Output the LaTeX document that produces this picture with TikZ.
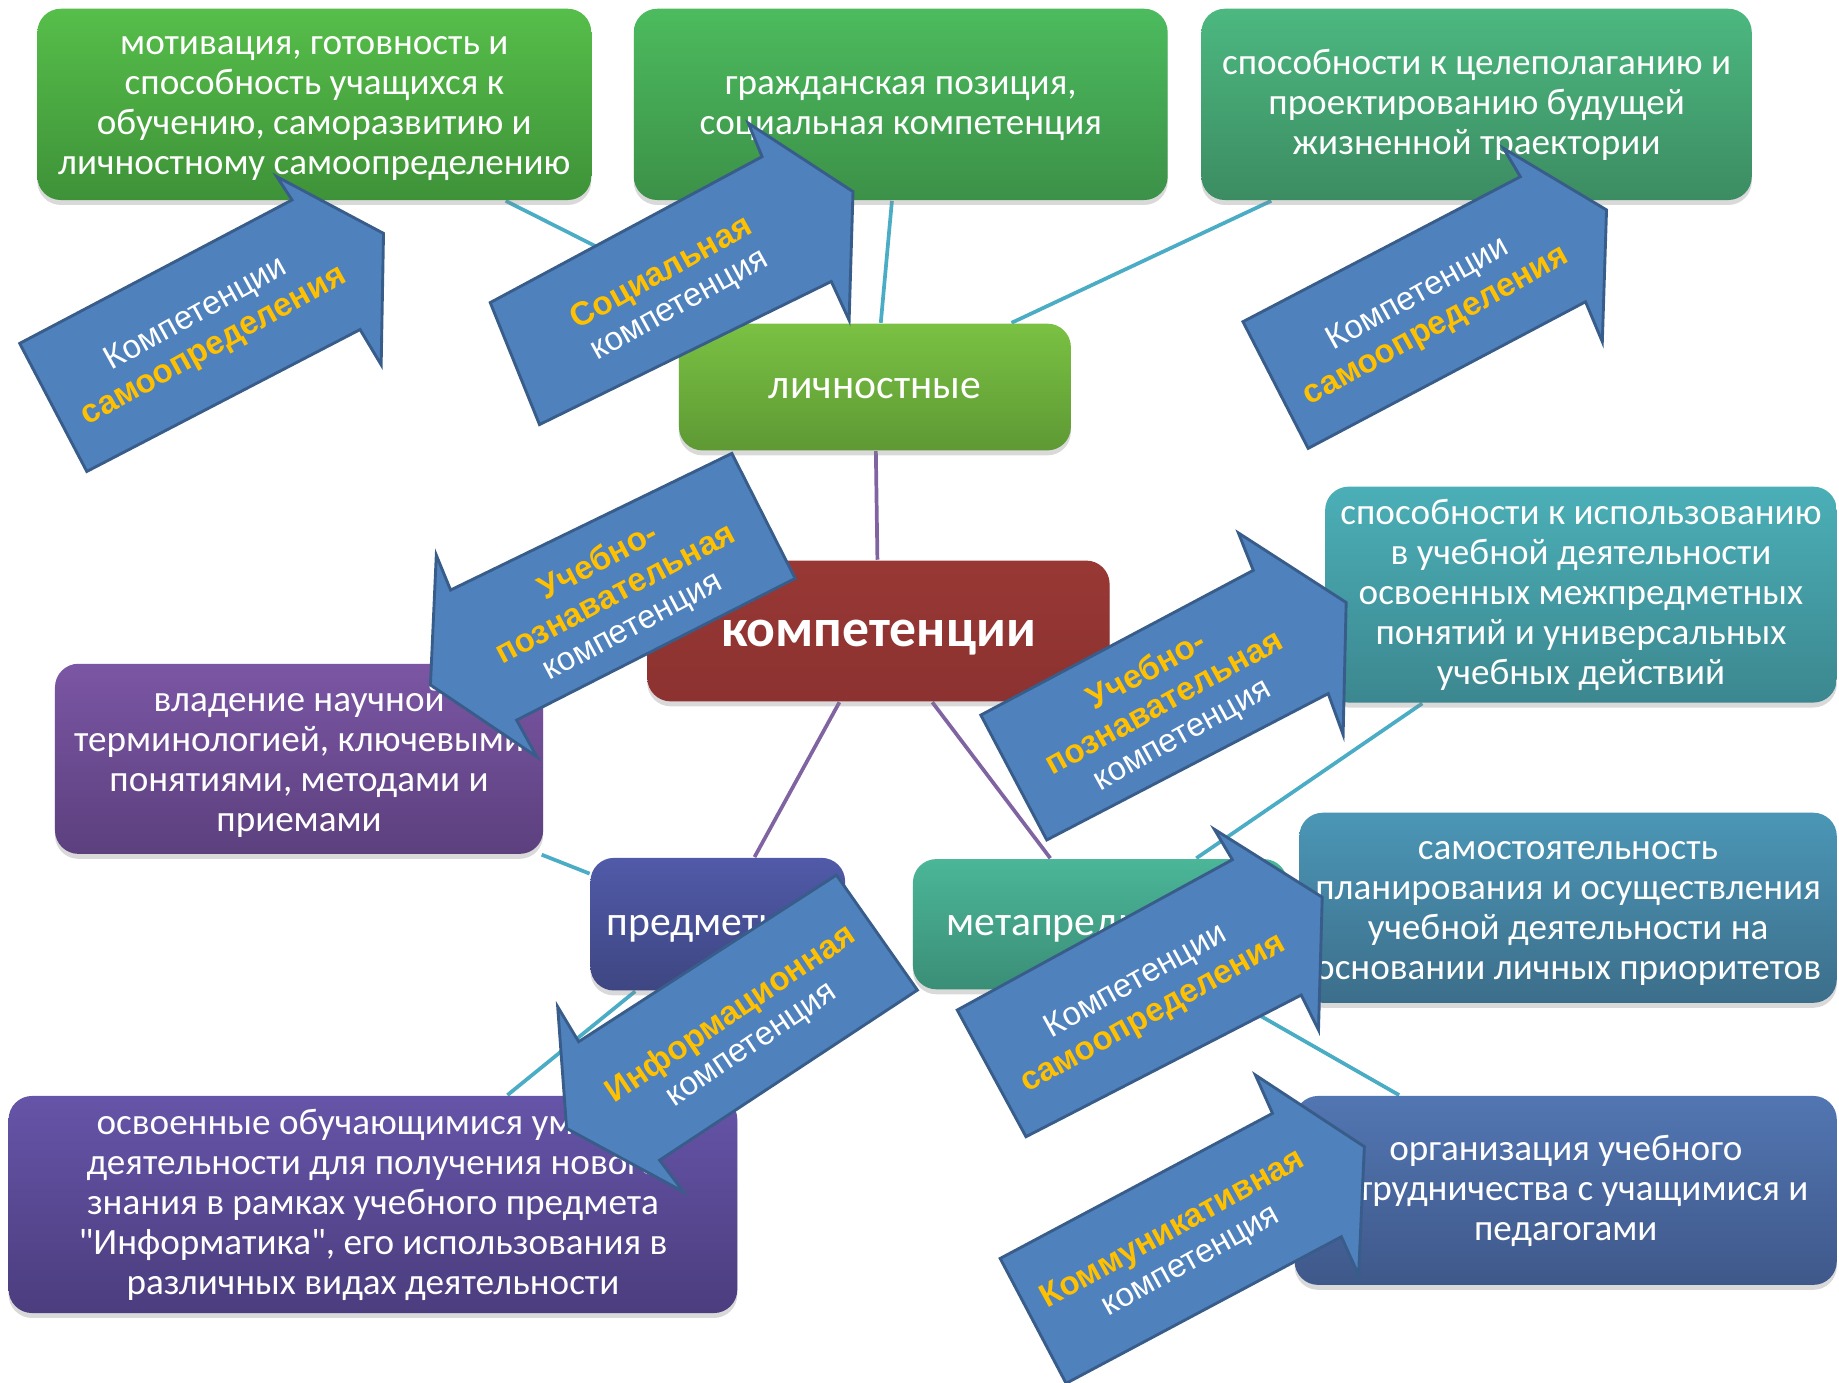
\documentclass[tikz,border=0pt]{standalone}
\usepackage{fontspec}
\setmainfont{Carlito}[Ligatures=TeXOff]
\newfontfamily\arrowfont{Liberation Sans}
\usetikzlibrary{shadows, backgrounds}

% Box colours (top / bottom of the gradient)
\definecolor{motivT}{RGB}{86,190,74}    \definecolor{motivB}{RGB}{62,146,56}
\definecolor{civicT}{RGB}{76,187,94}    \definecolor{civicB}{RGB}{60,145,72}
\definecolor{goalT}{RGB}{76,184,128}    \definecolor{goalB}{RGB}{60,140,98}
\definecolor{persT}{RGB}{122,193,67}    \definecolor{persB}{RGB}{94,153,52}
\definecolor{coreT}{RGB}{152,56,53}     \definecolor{coreB}{RGB}{140,50,48}
\definecolor{termT}{RGB}{123,86,164}    \definecolor{termB}{RGB}{92,64,126}
\definecolor{subjT}{RGB}{80,90,168}     \definecolor{subjB}{RGB}{62,70,130}
\definecolor{metaT}{RGB}{75,182,152}    \definecolor{metaB}{RGB}{58,142,118}
\definecolor{usageT}{RGB}{75,175,183}   \definecolor{usageB}{RGB}{60,135,143}
\definecolor{planT}{RGB}{75,150,182}    \definecolor{planB}{RGB}{60,110,138}
\definecolor{skillT}{RGB}{102,84,168}   \definecolor{skillB}{RGB}{75,61,126}
\definecolor{coopT}{RGB}{82,118,178}    \definecolor{coopB}{RGB}{63,88,138}
% Arrows and links
\definecolor{arrowblue}{RGB}{79,129,189}
\definecolor{arrowedge}{RGB}{56,93,138}
\definecolor{goldtext}{RGB}{255,192,0}
\definecolor{linkteal}{RGB}{75,172,198}
\definecolor{linkpurple}{RGB}{128,100,162}

\tikzset{
  compbox/.style={rectangle, rounded corners=0.2cm, text=white, align=center,
    inner sep=0pt, font=\fontsize{9}{9.7}\selectfont,
    drop shadow={opacity=0.3, shadow xshift=0pt, shadow yshift=-1.2pt}},
  bigbox/.style={compbox, font=\fontsize{10.1}{11}\selectfont},
  blockarrow/.style={fill=arrowblue, draw=arrowedge, line width=0.7pt, line join=miter},
  arrowtext/.style={align=center, text=white, inner sep=0pt,
    font=\arrowfont\fontsize{8}{8.8}\selectfont},
  tealline/.style={draw=linkteal, line width=0.9pt},
  purpleline/.style={draw=linkpurple, line width=0.9pt}
}
\newcommand{\gold}[1]{{\bfseries\color{goldtext}#1}}
% lower the text of a box a little without moving the box
\newcommand{\low}[2][1pt]{\raisebox{-#1}[\height][\depth]{\begin{tabular}{@{}c@{}}#2\end{tabular}}}

\begin{document}
\begin{tikzpicture}[x=0.01cm, y=-0.01cm]

    \useasboundingbox (0,0) rectangle (1568,1179);

    % Top row
    \node[compbox, top color=motivT, bottom color=motivB, minimum width=4.72cm, minimum height=1.63cm]
        (motiv) at (268,89) {\low[0.6pt]{мотивация, готовность и\\способность учащихся к\\обучению, саморазвитию и\\личностному самоопределению}};
    \node[compbox, top color=civicT, bottom color=civicB, minimum width=4.55cm, minimum height=1.63cm]
        (civic) at (768,89) {\low[0.6pt]{гражданская позиция,\\социальная компетенция}};
    \node[compbox, top color=goalT, bottom color=goalB, minimum width=4.69cm, minimum height=1.63cm]
        (goal) at (1259,89) {способности к целеполаганию и\\проектированию будущей\\жизненной траектории};

    % Personal group and centre
    \node[bigbox, top color=persT, bottom color=persB, minimum width=3.34cm, minimum height=1.08cm]
        (pers) at (746,330) {\low[0.5pt]{личностные}};
    \node[compbox, top color=coreT, bottom color=coreB, minimum width=3.94cm, minimum height=1.2cm,
        font=\fontsize{13}{14}\bfseries]
        (core) at (749,538) {\raisebox{-1.7pt}[\height][\depth]{компетенции}};

    % Left side
    \node[compbox, top color=termT, bottom color=termB, minimum width=4.16cm, minimum height=1.62cm]
        (term) at (255,647) {\low[1.1pt]{владение научной\\терминологией, ключевыми\\понятиями, методами и\\приемами}};
    \node[bigbox, top color=subjT, bottom color=subjB, minimum width=2.17cm, minimum height=1.13cm]
        (subj) at (612,788) {\low[0.5pt]{предметные}};
    \node[compbox, top color=skillT, bottom color=skillB, minimum width=6.21cm, minimum height=1.85cm]
        (skill) at (318,1027) {освоенные обучающимися умения\\деятельности для получения нового\\знания в рамках учебного предмета\\"Информатика", его использования в\\различных видах деятельности};

    % Right side
    \node[bigbox, top color=metaT, bottom color=metaB, minimum width=3.19cm, minimum height=1.11cm]
        (meta) at (938,788) {\low[0.5pt]{метапредметные}};
    \node[compbox, top color=usageT, bottom color=usageB, minimum width=4.36cm, minimum height=1.84cm]
        (usage) at (1348,507) {способности к использованию\\в учебной деятельности\\освоенных межпредметных\\понятий и универсальных\\учебных действий};
    \node[compbox, top color=planT, bottom color=planB, minimum width=4.58cm, minimum height=1.62cm]
        (plan) at (1337,774) {\low[0.9pt]{самостоятельность\\планирования и осуществления\\учебной деятельности на\\основании личных приоритетов}};
    \node[compbox, top color=coopT, bottom color=coopB, minimum width=4.62cm, minimum height=1.61cm]
        (coop) at (1335,1015) {организация учебного\\сотрудничества с учащимися и\\педагогами};

    % Links behind the boxes
    \begin{scope}[on background layer]
        \draw[tealline] (motiv) -- (pers);
        \draw[tealline] (civic) -- (pers);
        \draw[tealline] (goal) -- (pers);
        \draw[purpleline] (pers) -- (core);
        \draw[purpleline] (core) -- (subj);
        \draw[purpleline] (core) -- (meta);
        \draw[tealline] (term) -- (subj);
        \draw[tealline] (skill) -- (subj);
        \draw[tealline] (usage) -- (meta);
        \draw[tealline] (coop) -- (meta);
    \end{scope}

    % Block arrows
    \draw[blockarrow] (16.8,292.8) -- (249,170.5) -- (236,150.6) -- (327,199) -- (325,311) -- (307,281) -- (74,402) -- cycle;
    \draw[blockarrow] (418,258) -- (649.8,133.6) -- (638,105) -- (727.3,163.4) -- (724,273) -- (708.8,240) -- (460,362) -- cycle;
    \draw[blockarrow] (1059.8,274.3) -- (1296.3,150.7) -- (1282,126.5) -- (1369.8,179) -- (1366.2,291.4) -- (1351.9,257.3) -- (1115.4,382.3) -- cycle;
    \draw[blockarrow] (624,386.6) -- (384.2,503.1) -- (372,473.3) -- (367,584) -- (457.7,645.2) -- (440.5,614) -- (678,493.2) -- cycle;
    \draw[blockarrow] (836.3,609.7) -- (1068.6,486.3) -- (1055.9,454.4) -- (1147.8,513.7) -- (1145.2,626.4) -- (1132.5,591.4) -- (892.5,716.2) -- cycle;
    \draw[blockarrow] (713.2,746.1) -- (493.4,888.2) -- (475.5,858.4) -- (483.1,962.1) -- (582.8,1016.2) -- (562.4,989.2) -- (782.2,844.2) -- cycle;
    \draw[blockarrow] (816.2,861.2) -- (1050.8,733) -- (1035.4,707.1) -- (1127.4,765) -- (1124.2,878.2) -- (1109.5,848.4) -- (874.8,969.2) -- cycle;
    \draw[blockarrow] (852.8,1073) -- (1085,949.3) -- (1070.4,916.6) -- (1163.3,977.7) -- (1158.4,1087.1) -- (1143.7,1054.5) -- (909,1179.5) -- cycle;

    % Arrow labels
    \node[arrowtext, rotate=29] (selfA) at (175,282) {Компетенции\\\gold{самоопределения}};
    \node[arrowtext, rotate=29] (social) at (572,247) {\gold{Социальная}\\компетенция};
    \node[arrowtext, rotate=29] (selfB) at (1217,265) {Компетенции\\\gold{самоопределения}};
    \node[arrowtext, rotate=28] (studyA) at (525,507) {\gold{Учебно-}\\\gold{познавательная}\\компетенция};
    \node[arrowtext, rotate=29] (studyB) at (993,600) {\gold{Учебно-}\\\gold{познавательная}\\компетенция};
    \node[arrowtext, rotate=34] (info) at (632,878) {\gold{Информационная}\\компетенция};
    \node[arrowtext, rotate=29] (selfC) at (976,851) {Компетенции\\\gold{самоопределения}};
    \node[arrowtext, rotate=29] (comm) at (1008,1062) {\gold{Коммуникативная}\\компетенция};

\end{tikzpicture}
\end{document}
